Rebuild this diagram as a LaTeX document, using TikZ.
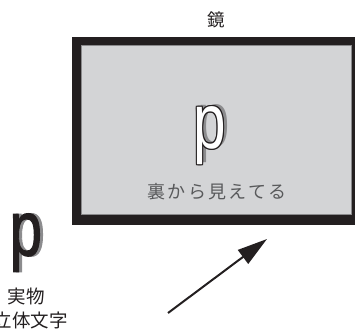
\documentclass[tikz,border=0pt]{standalone}
\usepackage{fontspec}
\setmainfont{Noto Sans CJK JP}
\newfontfamily\pfont{Liberation Sans}
\newfontfamily\pfontheavy[FakeBold=1.5]{Liberation Sans}
\usetikzlibrary{arrows.meta}
\definecolor{ink}{HTML}{231F20}
\definecolor{mirrorgrey}{HTML}{D3D4D6}
\definecolor{edgegrey}{HTML}{8A8A8C}
\definecolor{shadowgrey}{HTML}{8C8C8E}
\definecolor{labelgrey}{HTML}{58595B}
\tikzset{
  lbl/.style={inner sep=0pt, font=\fontsize{18.5}{18.5}\selectfont, text=ink},
  bigp/.style={inner sep=0pt, anchor=base, font=\pfont\fontsize{78}{78}\selectfont},
  heavyp/.style={inner sep=0pt, anchor=base, font=\pfontheavy\fontsize{78}{78}\selectfont},
  pointer/.style={draw=ink, line width=2pt, -{Triangle[length=30pt,width=17pt]}},
}
\newcommand{\narrowp}{\scalebox{0.75}[1]{p}}
\begin{document}
\begin{tikzpicture}[x=1pt,y=-1pt]
\useasboundingbox (0,0) rectangle (355,331);
% mirror
\fill[ink] (72,37) rectangle (361,224.5);
\filldraw[fill=mirrorgrey, draw=edgegrey, line width=0.6pt] (81.7,45.7) rectangle (351.7,214.3);
\node[lbl, font=\fontsize{17.5}{17.5}\selectfont] (mirrorlabel) at (216.5,20) {鏡};
% image in the mirror
\node[bigp, text=shadowgrey] (innershadow) at (214,146.5) {\narrowp};
\foreach \dx/\dy [count=\i] in {0.8/0, -0.8/0, 0/0.8, 0/-0.8, 0.6/0.6, -0.6/0.6, 0.6/-0.6, -0.6/-0.6}
  \node[bigp, text=ink] (innerrim\i) at (209.8+\dx,148.5+\dy) {\narrowp};
\node[bigp, text=white] (innerp) at (209.8,148.5) {\narrowp};
\node[lbl, text=labelgrey, font=\addfontfeatures{LetterSpace=13}\fontsize{18}{18}\selectfont] (behind) at (217,191.5) {裏から見えてる};
% real object
\node[heavyp, text=shadowgrey] (realshadow) at (28.8,255.5) {\narrowp};
\node[heavyp, text=ink] (realp) at (25.8,255.5) {\narrowp};
\node[lbl] (reallabel) at (26.5,296.5) {実物};
\node[lbl] (solidlabel) at (31,320.5) {立体文字};
% viewing direction
\coordinate (viewfrom) at (168,313);
\coordinate (viewto) at (267,239);
\draw[pointer] (viewfrom) -- (viewto);
\end{tikzpicture}
\end{document}
